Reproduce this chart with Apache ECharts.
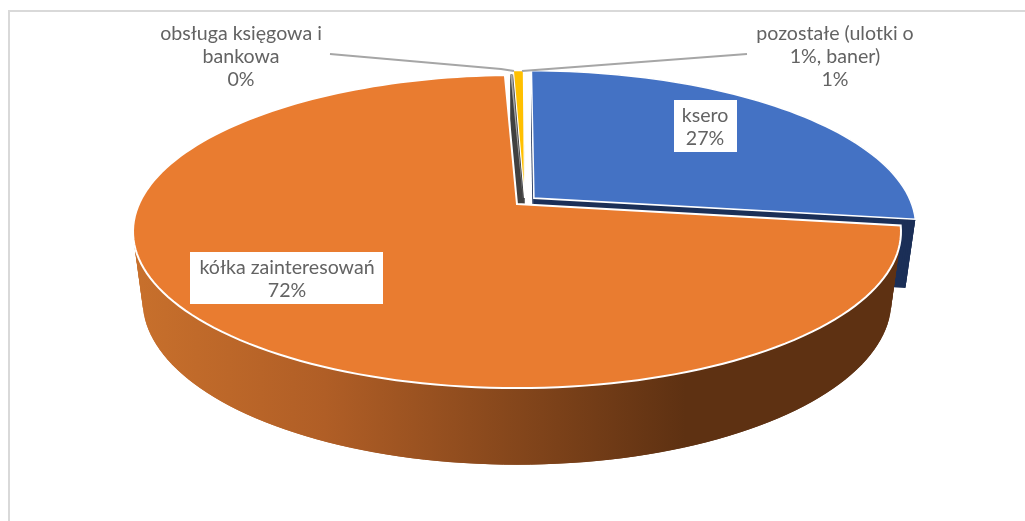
<!DOCTYPE html>
<html><head><meta charset="utf-8">
<style>html,body{margin:0;padding:0;background:#fff}#c{width:1025px;height:521px}</style>
<script src="https://cdn.jsdelivr.net/npm/echarts@6/dist/echarts.min.js"></script>
</head><body><div id="c"></div>
<script>
// ---- data ----
const categories = ['ksero', 'kółka zainteresowań', 'obsługa księgowa i bankowa', 'pozostałe (ulotki o 1%, baner)'];
const shares = [27.2, 72.2, 0.1, 0.5];
const percentLabels = ['27%', '72%', '0%', '1%'];

// ---- styling / layout ----
const faceColors = ['#4472C4', '#E97C30', '#A5A5A5', '#FFC000'];
const wallColors = ['#1B2F57', null, '#404040', '#404040'];
const faceStroke = [1.6, 2, 0, 1.2];
const sliceShift = [[0.045, -0.039], [0, 0], [0.017, -0.005], [0.02, -0.04]];
const drawOrder = [0, 3, 2, 1];
const view = {cx: 517, cy: 204, rx: 378, ry: 151.7, k: 0.176, wallX: 0.975, wallY: 1.047, wallCy: 272};
const textColor = '#636363', font = 'Lato';

const project = (u, v) => {
  const w = 1 - view.k * v;
  return [view.cx + view.rx * u / w, view.cy + view.ry * v / w];
};
const drop = p => [view.cx + view.wallX * (p[0] - view.cx), view.wallCy + view.wallY * (p[1] - view.cy)];

const total = shares.reduce((a, b) => a + b, 0);
const starts = [];
shares.reduce((acc, s, i) => { starts[i] = acc; return acc + s; }, 0);

function sliceGeometry(i) {
  const a0 = starts[i] / total * 2 * Math.PI, a1 = (starts[i] + shares[i]) / total * 2 * Math.PI;
  const n = Math.max(2, Math.ceil((a1 - a0) / 0.03));
  const [ox, oy] = sliceShift[i];
  const rim = [];
  for (let j = 0; j <= n; j++) {
    const a = a0 + (a1 - a0) * j / n;
    rim.push(project(Math.sin(a) + ox, -Math.cos(a) + oy));
  }
  return {apex: project(ox, oy), rim};
}

const orangeWall = {
  type: 'linear', x: 133, y: 0, x2: 900, y2: 0, global: true,
  colorStops: [{offset: 0, color: '#C8702C'}, {offset: 0.25, color: '#B05E26'}, {offset: 0.72, color: '#5E3112'}, {offset: 1, color: '#5E3112'}]
};

function renderSlice(params) {
  const i = drawOrder[params.dataIndex];
  const g = sliceGeometry(i);
  const rimLow = g.rim.map(drop);
  const children = [];
  const wallFill = wallColors[i] || orangeWall;
  const poly = (points, style) => ({type: 'polygon', shape: {points}, style});
  if (wallColors[i]) {
    const apexLow = drop(g.apex), last = g.rim.length - 1;
    children.push(poly([g.apex, g.rim[0], rimLow[0], apexLow], {fill: wallFill}));
    children.push(poly([g.apex, g.rim[last], rimLow[last], apexLow], {fill: wallFill}));
  }
  // outer wall: overlapping quads, so the fold at the silhouette stays filled
  for (let j = 0; j < g.rim.length - 1; j++) {
    const e = Math.min(j + 2, g.rim.length - 1);
    children.push(poly([g.rim[j], g.rim[e], rimLow[e], rimLow[j]], {fill: wallFill}));
  }
  children.push(poly([g.apex].concat(g.rim), {
    fill: faceColors[i], stroke: faceStroke[i] ? '#fff' : 'none', lineWidth: faceStroke[i], lineJoin: 'miter'
  }));
  return {type: 'group', children};
}

const textEl = (text, x, y) => ({
  type: 'text', x, y, silent: true,
  style: {text, fill: textColor, font: '19.6px ' + font, align: 'center', verticalAlign: 'middle', lineHeight: 23}
});
const boxEl = (x, y, width, height) => ({type: 'rect', shape: {x, y, width, height}, style: {fill: '#fff'}, silent: true});
const lineEl = points => ({type: 'polyline', shape: {points}, silent: true, style: {fill: 'none', stroke: '#A6A6A6', lineWidth: 2}});

const chart = echarts.init(document.getElementById('c'), null, {renderer: 'canvas'});
chart.setOption({
  animation: false,
  backgroundColor: '#fff',
  series: [{
    type: 'custom', coordinateSystem: 'none', clip: false, silent: true, z: 1,
    data: drawOrder.map(i => ({name: categories[i], value: shares[i]})),
    renderItem: renderSlice
  }],
  graphic: {elements: [
    {type: 'polyline', z: 0, silent: true, shape: {points: [[9, 521], [9, 11], [1025, 11]]}, style: {fill: 'none', stroke: '#D9D9D9', lineWidth: 2}},
    Object.assign(lineEl([[330, 54], [501, 69], [514, 71]]), {z: 5}),
    Object.assign(lineEl([[747, 54], [522, 71]]), {z: 5}),
    Object.assign(boxEl(674, 100, 63, 52), {z: 6}),
    Object.assign(boxEl(190, 252, 193, 52), {z: 6}),
    Object.assign(textEl('obsługa księgowa i\nbankowa\n' + percentLabels[2], 241, 57), {z: 7}),
    Object.assign(textEl('pozostałe (ulotki o\n1%, baner)\n' + percentLabels[3], 835, 57), {z: 7}),
    Object.assign(textEl(categories[0] + '\n' + percentLabels[0], 705, 127), {z: 7}),
    Object.assign(textEl(categories[1] + '\n' + percentLabels[1], 287, 279), {z: 7})
  ]}
});
</script></body></html>
